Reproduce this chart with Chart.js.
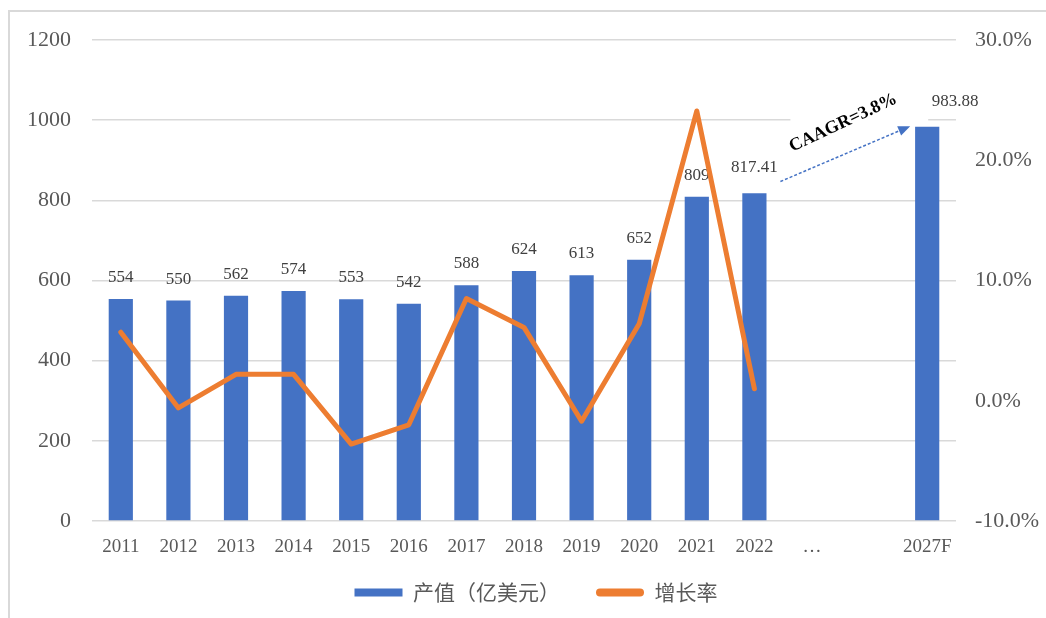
<!DOCTYPE html>
<html>
<head>
<meta charset="utf-8">
<script src="https://cdn.jsdelivr.net/npm/chart.js@4.4.0/dist/chart.umd.min.js"></script>
<style>
  html, body { margin: 0; padding: 0; background: #fff; }
  #wrap { position: relative; width: 1046px; height: 618px; overflow: hidden; }
  #frame { position: absolute; left: 8px; top: 10px; width: 1100px; height: 700px; border: 2px solid #d9d9d9; }
  canvas { position: absolute; left: 0; top: 0; }
</style>
</head>
<body>
<div id="wrap">
  <div id="frame"></div>
  <canvas id="chart" width="1046" height="618"></canvas>
</div>
<script>
// categories ("…" and the blank one stand for the skipped years)
const years = ["2011", "2012", "2013", "2014", "2015", "2016", "2017", "2018",
  "2019", "2020", "2021", "2022", "…", "", "2027F"];

// 产值（亿美元）
const outputValues = [554, 550, 562, 574, 553, 542, 588, 624, 613, 652, 809, 817.41,
  null, null, 983.88];

// 增长率 (%)
const growthRates = [5.7, -0.6, 2.2, 2.2, -3.6, -2.0, 8.5, 6.1, -1.7, 6.4, 24.1, 1.0,
  null, null, null];

const leftTicks = [0, 200, 400, 600, 800, 1000, 1200];
const rightTicks = [-10, 0, 10, 20, 30];

const cagrText = "CAAGR=3.8%";
const cagrFrom = 847; // value level where the dashed arrow starts
const cagrTo = 985;

const blue = "#4472C4";
const orange = "#ED7D31";
const gray = "#595959";
const serif = "'Liberation Serif', 'Times New Roman', serif";

// value labels above the bars, drawn before the line so the line sits on top
const barLabels = {
  id: "barLabels",
  afterDatasetDraw(chart, args) {
    if (args.index !== 0) return;
    const ctx = chart.ctx;
    const meta = chart.getDatasetMeta(0);
    ctx.save();
    ctx.font = "17px " + serif;
    ctx.fillStyle = "#404040";
    ctx.textAlign = "center";
    ctx.textBaseline = "bottom";
    meta.data.forEach(function (bar, i) {
      const v = outputValues[i];
      if (v == null) return;
      // the forecast label sits off to the right in the original
      const shift = i === years.length - 1 ? 28 : 0;
      const lift = i >= 11 ? 17 : 13;
      ctx.fillText(String(v), bar.x + shift, bar.y - lift);
    });
    ctx.restore();
  },
};

// dashed CAGR arrow from 2022 to 2027F
const cagrArrow = {
  id: "cagrArrow",
  afterDatasetsDraw(chart) {
    const ctx = chart.ctx;
    const xs = chart.scales.x;
    const ys = chart.scales.y;
    const x0 = xs.getPixelForValue(years.indexOf("2022")) + 26;
    const y0 = ys.getPixelForValue(cagrFrom);
    const x1 = xs.getPixelForValue(years.indexOf("2027F")) - 17;
    const y1 = ys.getPixelForValue(cagrTo);

    ctx.save();
    // text box fill hides the 1000 gridline behind the annotation
    const gy = ys.getPixelForValue(1000);
    ctx.fillStyle = "#fff";
    ctx.fillRect(x0 + 10, gy - 5, x1 - x0 + 8, 9);

    const a = Math.atan2(y1 - y0, x1 - x0);
    const head = 12;
    const bx = x1 - head * Math.cos(a);
    const by = y1 - head * Math.sin(a);
    ctx.strokeStyle = blue;
    ctx.lineWidth = 1.5;
    ctx.setLineDash([3, 2]);
    ctx.beginPath();
    ctx.moveTo(x0, y0);
    ctx.lineTo(bx, by);
    ctx.stroke();
    ctx.setLineDash([]);
    ctx.fillStyle = blue;
    ctx.beginPath();
    ctx.moveTo(x1, y1);
    ctx.lineTo(bx + 5 * Math.sin(a), by - 5 * Math.cos(a));
    ctx.lineTo(bx - 5 * Math.sin(a), by + 5 * Math.cos(a));
    ctx.closePath();
    ctx.fill();

    const cx = (x0 + x1) / 2 - 2;
    const cy = (y0 + y1) / 2 - 31;
    ctx.translate(cx, cy);
    ctx.rotate((-25 * Math.PI) / 180);
    ctx.font = "bold 18px " + serif;
    ctx.fillStyle = "#000";
    ctx.textAlign = "center";
    ctx.textBaseline = "middle";
    ctx.fillText(cagrText, 0, 0);
    ctx.restore();
  },
};

// legend needs wide gaps between items but not the extra height
const legendFit = {
  id: "legendFit",
  beforeInit(chart) {
    const fit = chart.legend.fit;
    chart.legend.fit = function () {
      fit.bind(this)();
      this.height = 52;
    };
  },
  afterLayout(chart) {
    const lg = chart.legend;
    lg.left += 13;
    lg.right += 13;
    lg.top -= 20;
  },
};

const ctx = document.getElementById("chart");

new Chart(ctx, {
  data: {
    labels: years,
    datasets: [
      {
        type: "bar",
        label: "产值（亿美元）",
        data: outputValues,
        backgroundColor: blue,
        borderWidth: 0,
        yAxisID: "y",
        barPercentage: 0.42,
        categoryPercentage: 1,
        order: 1,
      },
      {
        type: "line",
        label: "增长率",
        data: growthRates,
        borderColor: orange,
        backgroundColor: orange,
        borderWidth: 5,
        pointRadius: 0,
        borderCapStyle: "round",
        borderJoinStyle: "round",
        tension: 0,
        yAxisID: "y1",
        order: 0,
      },
    ],
  },
  options: {
    responsive: false,
    animation: false,
    layout: { padding: { top: 40, left: 0, right: 0, bottom: 0 } },
    plugins: {
      tooltip: { enabled: false },
      legend: {
        position: "bottom",
        labels: {
          boxWidth: 48,
          boxHeight: 8,
          padding: 36,
          color: gray,
          useBorderRadius: true,
          font: { size: 21, family: "'Noto Sans CJK SC', sans-serif" },
          sort: function (a, b) {
            return a.datasetIndex - b.datasetIndex;
          },
          generateLabels: function (chart) {
            const items = Chart.defaults.plugins.legend.labels.generateLabels(chart);
            items.forEach(function (it) {
              it.lineWidth = 0;
              it.borderRadius = it.datasetIndex === 1 ? 4 : 0;
            });
            return items;
          },
        },
      },
    },
    scales: {
      x: {
        grid: { display: false },
        border: { display: false },
        ticks: {
          autoSkip: false,
          maxRotation: 0,
          padding: 7,
          color: gray,
          font: { size: 19, family: serif },
        },
        afterFit: function (s) {
          s.height = 45;
        },
      },
      y: {
        position: "left",
        min: 0,
        max: 1200,
        grid: { color: "#d9d9d9", lineWidth: 1.5, drawTicks: false },
        border: { display: false },
        ticks: {
          padding: 21,
          color: gray,
          font: { size: 22, family: serif },
          callback: function (v) {
            return String(v);
          },
        },
        afterBuildTicks: function (s) {
          s.ticks = leftTicks.map(function (v) { return { value: v }; });
        },
        afterFit: function (s) {
          s.width = 92;
        },
      },
      y1: {
        position: "right",
        min: -10,
        max: 30,
        grid: { display: false, drawTicks: false },
        border: { display: false },
        ticks: {
          padding: 19,
          color: gray,
          font: { size: 22, family: serif },
          callback: function (v) {
            return v.toFixed(1) + "%";
          },
        },
        afterBuildTicks: function (s) {
          s.ticks = rightTicks.map(function (v) { return { value: v }; });
        },
        afterFit: function (s) {
          s.width = 90;
        },
      },
    },
  },
  plugins: [barLabels, cagrArrow, legendFit],
});
</script>
</body>
</html>
